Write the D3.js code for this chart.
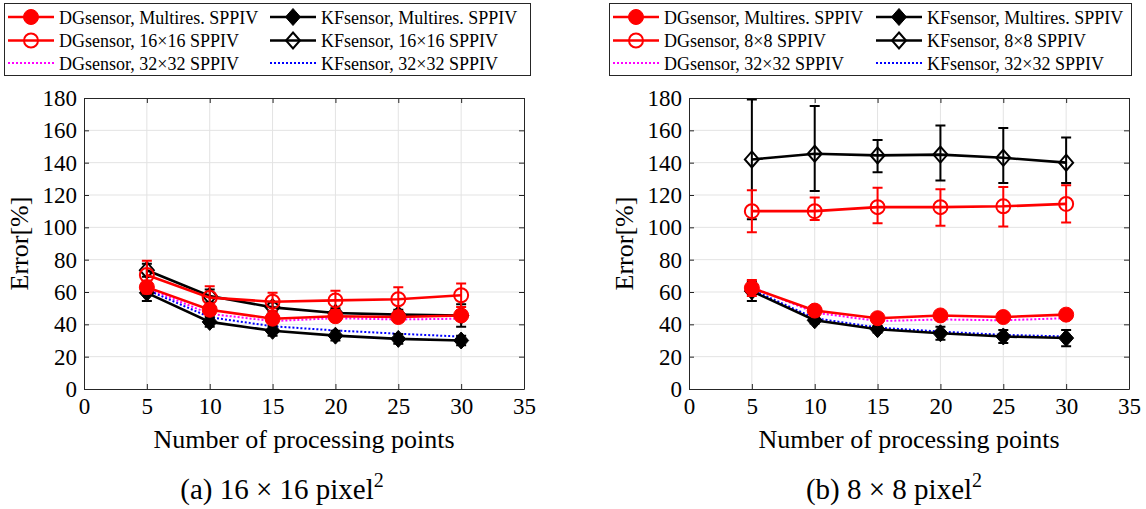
<!DOCTYPE html>
<html>
<head>
<meta charset="utf-8">
<script src="https://cdn.jsdelivr.net/npm/d3@7"></script>
<style>
  html, body { margin: 0; padding: 0; background: #fff; }
  svg text { font-family: "Liberation Serif", "Times New Roman", serif !important; fill: #000; }
  .tick text { font-size: 23px !important; }
</style>
</head>
<body>
<svg id="fig" width="1146" height="509"></svg>
<script>
// Number of processing points on the x axis
const points = [5, 10, 15, 20, 25, 30];
const xTicks = [0, 5, 10, 15, 20, 25, 30, 35];
const yTicks = [0, 20, 40, 60, 80, 100, 120, 140, 160, 180];

// (a) 16x16 pixel^2 windows
const dgMultiA    = [63, 49, 43.5, 45, 44.5, 45.5];
const dgMultiErrA = [4, 3, 3, 3, 3, 3];
const kfMultiA    = [59.5, 41.5, 36, 33, 31, 30];
const kfMultiErrA = [5, 3, 3, 3, 3, 3];
const dg16A       = [70.5, 56.5, 54, 54.8, 55.5, 58];
const dg16ErrA    = [8.8, 7, 5.6, 6, 7.4, 7.3];
const kf16A       = [73.5, 57.5, 50.5, 47, 46, 45.5];
const kf16ErrA    = [4, 4, 3, 3, 3, 7];
const dg32A       = [62.4, 46.5, 42, 43.8, 43, 43.5];
const kf32A       = [61.4, 44.4, 38.8, 36.2, 34.2, 32.4];

// (b) 8x8 pixel^2 windows
const dgMultiB    = [62.5, 48.5, 43.8, 45.5, 44.5, 46];
const dgMultiErrB = [5, 2, 2, 2, 2, 2];
const kfMultiB    = [60.5, 42.5, 37, 34.5, 32.5, 31.5];
const kfMultiErrB = [6, 2, 2, 4, 4, 5];
const dg8B        = [110, 110, 112.5, 112.5, 113, 114.5];
const dg8LoB      = [97, 104.5, 102.5, 101, 100.5, 103];
const dg8HiB      = [123, 118.5, 124.5, 123.5, 125, 126];
const kf8B        = [142, 145.5, 144.5, 145, 143, 140];
const kf8LoB      = [105, 122.5, 134, 129, 127.5, 127.5];
const kf8HiB      = [179, 175, 154, 163, 161.5, 155.5];
const dg32B       = [63, 47.3, 42, 43, 42.5, 43.8];
const kf32B       = [61.5, 43.8, 38, 35.5, 33.5, 32.5];

const RED = "#ff0000", BLACK = "#000000", MAGENTA = "#ff00ff", BLUE = "#0000ff";
const SERIF = '"Liberation Serif", "Times New Roman", serif';

const svg = d3.select("#fig");

function withErr(vals, err) { return vals.map((v, i) => ({ x: points[i], y: v, lo: v - err[i], hi: v + err[i] })); }
function withBounds(vals, lo, hi) { return vals.map((v, i) => ({ x: points[i], y: v, lo: lo[i], hi: hi[i] })); }
function plain(vals) { return vals.map((v, i) => ({ x: points[i], y: v })); }

function diamondPath(w, h) { return `M0,${-h}L${w},0L0,${h}L${-w},0Z`; }

// marker drawing for one point
function drawMarker(g, kind, cx, cy) {
  if (kind === "dotFilled") {
    g.append("circle").attr("cx", cx).attr("cy", cy).attr("r", 7.5).attr("fill", RED).attr("stroke", RED).attr("stroke-width", 1);
  } else if (kind === "dotOpen") {
    g.append("circle").attr("cx", cx).attr("cy", cy).attr("r", 7).attr("fill", "none").attr("stroke", RED).attr("stroke-width", 2);
  } else if (kind === "diaFilled") {
    g.append("path").attr("d", diamondPath(7.5, 8.5)).attr("transform", `translate(${cx},${cy})`).attr("fill", BLACK).attr("stroke", BLACK).attr("stroke-width", 1);
  } else if (kind === "diaOpen") {
    g.append("path").attr("d", diamondPath(7, 8)).attr("transform", `translate(${cx},${cy})`).attr("fill", "none").attr("stroke", BLACK).attr("stroke-width", 2);
  }
}

function panel(left, series, ylabelX) {
  const top = 98, bottom = 389, right = left + 440;
  const x = d3.scaleLinear().domain([0, 35]).range([left, right]);
  const y = d3.scaleLinear().domain([0, 180]).range([bottom, top]);
  const g = svg.append("g");

  // grid
  g.append("g").selectAll("line").data(xTicks.slice(1, -1)).join("line")
    .attr("x1", d => x(d)).attr("x2", d => x(d)).attr("y1", top).attr("y2", bottom)
    .attr("stroke", "#e3e3e3").attr("stroke-width", 1);
  g.append("g").selectAll("line").data(yTicks.slice(1, -1)).join("line")
    .attr("y1", d => y(d)).attr("y2", d => y(d)).attr("x1", left).attr("x2", right)
    .attr("stroke", "#e3e3e3").attr("stroke-width", 1);

  // axes (ticks pointing inward), box on all sides
  const styleAxis = a => {
    a.attr("font-family", SERIF).attr("font-size", 23);
    a.select(".domain").attr("stroke", "#262626").attr("stroke-width", 1);
    a.selectAll(".tick line").attr("stroke", "#262626");
    a.selectAll(".tick text").style("font-family", SERIF).style("font-size", "23px").attr("fill", "#000");
  };
  g.append("g").attr("transform", `translate(0,${bottom})`)
    .call(d3.axisBottom(x).tickValues(xTicks).tickSizeInner(-5).tickSizeOuter(0).tickPadding(9))
    .call(styleAxis);
  g.append("g").attr("transform", `translate(0,${top})`)
    .call(d3.axisTop(x).tickValues(xTicks).tickSizeInner(-5).tickSizeOuter(0).tickFormat(""))
    .call(styleAxis);
  g.append("g").attr("transform", `translate(${left},0)`)
    .call(d3.axisLeft(y).tickValues(yTicks).tickSizeInner(-5).tickSizeOuter(0).tickPadding(7))
    .call(styleAxis);
  g.append("g").attr("transform", `translate(${right},0)`)
    .call(d3.axisRight(y).tickValues(yTicks).tickSizeInner(-5).tickSizeOuter(0).tickFormat(""))
    .call(styleAxis);

  // labels
  g.append("text").attr("x", (left + right) / 2).attr("y", 448).attr("text-anchor", "middle")
    .style("font-family", SERIF).style("font-size", "26px").text("Number of processing points");
  g.append("text").attr("transform", `translate(${ylabelX},${(top + bottom) / 2}) rotate(-90)`)
    .attr("text-anchor", "middle").style("font-family", SERIF).style("font-size", "26px").text("Error[%]");

  const line = d3.line().x(d => x(d.x)).y(d => y(d.y));

  series.forEach(s => {
    const sg = g.append("g");
    sg.append("path").datum(s.data).attr("d", line).attr("fill", "none")
      .attr("stroke", s.color).attr("stroke-width", s.dotted ? 2 : 2.6)
      .attr("stroke-dasharray", s.dotted ? "2,2" : null);
    if (s.data[0].lo !== undefined) {
      s.data.forEach(d => {
        const cx = x(d.x), y1 = y(d.lo), y2 = y(d.hi);
        sg.append("path").attr("d", `M${cx},${y1}V${y2}M${cx - 5},${y1}H${cx + 5}M${cx - 5},${y2}H${cx + 5}`)
          .attr("stroke", s.color).attr("stroke-width", 2).attr("fill", "none");
      });
    }
    if (s.marker) s.data.forEach(d => drawMarker(sg, s.marker, x(d.x), y(d.y)));
  });
}

function legend(bx, by, bw, bh, colOffsets, labels) {
  const g = svg.append("g");
  g.append("rect").attr("x", bx + 0.5).attr("y", by + 0.5).attr("width", bw).attr("height", bh)
    .attr("fill", "#fff").attr("stroke", "#262626").attr("stroke-width", 1);
  const rows = [17, 40.5, 63];
  labels.forEach((it, i) => {
    const col = i % 2, row = Math.floor(i / 2);
    const x0 = bx + colOffsets[col], cy = rows[row];
    g.append("line").attr("x1", x0).attr("x2", x0 + 46).attr("y1", cy).attr("y2", cy)
      .attr("stroke", it.color).attr("stroke-width", it.dotted ? 2 : 2.6)
      .attr("stroke-dasharray", it.dotted ? "2,2" : null);
    if (it.marker) drawMarker(g, it.marker, x0 + 23, cy);
    g.append("text").attr("x", x0 + 51).attr("y", cy + 6.5).style("font-family", SERIF).style("font-size", "18px").text(it.text);
  });
}

// panel (a)
panel(84, [
  { data: withErr(kf16A, kf16ErrA), color: BLACK, marker: "diaOpen" },
  { data: withErr(dg16A, dg16ErrA), color: RED, marker: "dotOpen" },
  { data: plain(dg32A), color: MAGENTA, dotted: true },
  { data: plain(kf32A), color: BLUE, dotted: true },
  { data: withErr(kfMultiA, kfMultiErrA), color: BLACK, marker: "diaFilled" },
  { data: withErr(dgMultiA, dgMultiErrA), color: RED, marker: "dotFilled" }
], 28);

// panel (b)
panel(689, [
  { data: withBounds(kf8B, kf8LoB, kf8HiB), color: BLACK, marker: "diaOpen" },
  { data: withBounds(dg8B, dg8LoB, dg8HiB), color: RED, marker: "dotOpen" },
  { data: plain(dg32B), color: MAGENTA, dotted: true },
  { data: plain(kf32B), color: BLUE, dotted: true },
  { data: withErr(kfMultiB, kfMultiErrB), color: BLACK, marker: "diaFilled" },
  { data: withErr(dgMultiB, dgMultiErrB), color: RED, marker: "dotFilled" }
], 633);

legend(4, 3, 526, 72, [4, 266], [
  { text: "DGsensor, Multires. SPPIV", color: RED, marker: "dotFilled" },
  { text: "KFsensor, Multires. SPPIV", color: BLACK, marker: "diaFilled" },
  { text: "DGsensor, 16\u00d716 SPPIV", color: RED, marker: "dotOpen" },
  { text: "KFsensor, 16\u00d716 SPPIV", color: BLACK, marker: "diaOpen" },
  { text: "DGsensor, 32\u00d732 SPPIV", color: MAGENTA, dotted: true },
  { text: "KFsensor, 32\u00d732 SPPIV", color: BLUE, dotted: true }
]);
legend(609, 3, 522, 72, [4, 267], [
  { text: "DGsensor, Multires. SPPIV", color: RED, marker: "dotFilled" },
  { text: "KFsensor, Multires. SPPIV", color: BLACK, marker: "diaFilled" },
  { text: "DGsensor, 8\u00d78 SPPIV", color: RED, marker: "dotOpen" },
  { text: "KFsensor, 8\u00d78 SPPIV", color: BLACK, marker: "diaOpen" },
  { text: "DGsensor, 32\u00d732 SPPIV", color: MAGENTA, dotted: true },
  { text: "KFsensor, 32\u00d732 SPPIV", color: BLUE, dotted: true }
]);

// sub-figure captions
function caption(cx, pre) {
  const t = svg.append("text").attr("x", cx).attr("y", 499).attr("text-anchor", "middle")
    .style("font-family", SERIF).style("font-size", "29px");
  t.append("tspan").text(pre + " pixel");
  t.append("tspan").attr("dy", -12).style("font-size", "20px").text("2");
}
caption(282, "(a) 16 \u00d7 16");
caption(894, "(b) 8 \u00d7 8");
</script>
</body>
</html>
